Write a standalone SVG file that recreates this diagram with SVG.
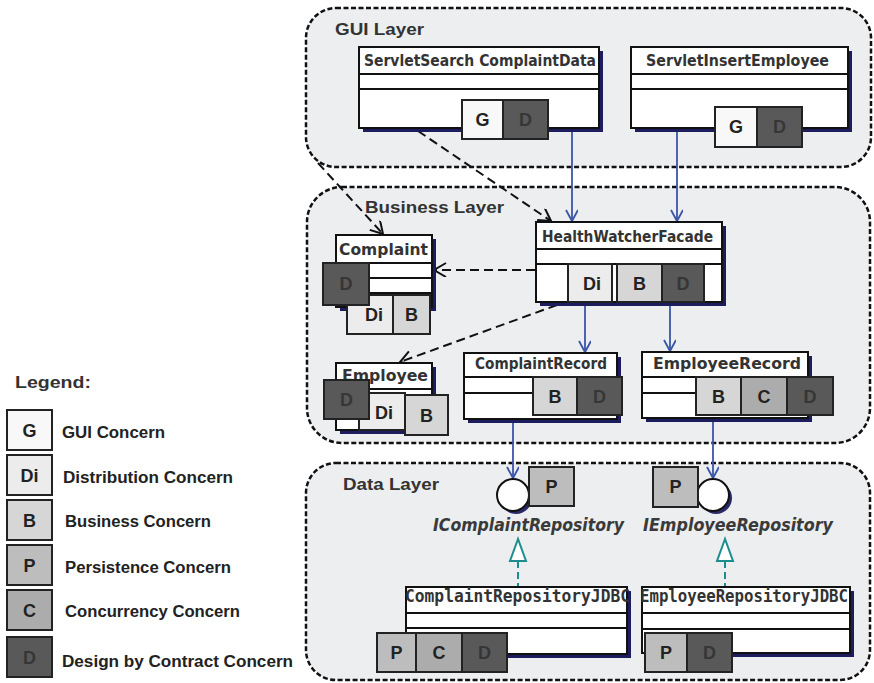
<svg xmlns="http://www.w3.org/2000/svg" width="874" height="683" viewBox="0 0 874 683">
<style>
.layer{fill:#eceef0;stroke:#111;stroke-width:2.5;stroke-dasharray:5 2.5}
.ltitle{font-family:"Liberation Sans",Arial,sans-serif;font-weight:bold;font-size:17px;fill:#333}
.cls{fill:#fff;stroke:#111;stroke-width:2}
.sh{fill:#1c1c5e}
.sep{stroke:#111;stroke-width:2}
.cname{font-family:"DejaVu Sans",Verdana,sans-serif;font-weight:bold;font-size:15px;fill:#333}
.mono{font-family:"DejaVu Sans Mono","Liberation Mono",monospace;font-weight:bold;font-size:17px;fill:#333}
.ital{font-family:"DejaVu Sans",Verdana,sans-serif;font-weight:bold;font-style:italic;font-size:17px;fill:#3a3a3a}
.cb{stroke:#222;stroke-width:2}
.G{fill:#f8f8f8}.Di{fill:#ececec}.B{fill:#d6d6d6}.P{fill:#bdbdbd}.C{fill:#acacac}.D{fill:#595959}
.lt{font-family:"Liberation Sans",Arial,sans-serif;font-weight:bold;font-size:18px;fill:#222;text-anchor:middle}
.ltd{fill:#363636}
.leg{font-family:"Liberation Sans",Arial,sans-serif;font-weight:bold;font-size:16px;fill:#222}
.blue{stroke:#3b55a8;stroke-width:1.8;fill:none}
.dash{stroke:#111;stroke-width:2;stroke-dasharray:9 5;fill:none}
.real{stroke:#1d8c8c;stroke-width:2;stroke-dasharray:7 4;fill:none}
</style>
<defs>
<marker id="ab" markerUnits="userSpaceOnUse" markerWidth="14" markerHeight="14" refX="12" refY="6" orient="auto"><path d="M1,0 L12,6 L1,12" fill="none" stroke="#3b55a8" stroke-width="1.8"/></marker>
<marker id="ak" markerUnits="userSpaceOnUse" markerWidth="16" markerHeight="16" refX="13" refY="7" orient="auto"><path d="M1,0 L13,7 L1,14" fill="none" stroke="#111" stroke-width="2"/></marker>
</defs>

<g id="gui-layer">
<rect class="layer" x="306" y="8" width="565" height="159" rx="30"/>
<text class="ltitle" x="335" y="35" textLength="89" lengthAdjust="spacingAndGlyphs">GUI Layer</text>
</g>
<g id="business-layer">
<rect class="layer" x="307" y="187" width="563" height="256" rx="35"/>
<text class="ltitle" x="365" y="213" textLength="139" lengthAdjust="spacingAndGlyphs">Business Layer</text>
</g>
<g id="data-layer">
<rect class="layer" x="306" y="463" width="564" height="217" rx="30"/>
<text class="ltitle" x="343" y="490" textLength="96" lengthAdjust="spacingAndGlyphs">Data Layer</text>
</g>

<g id="connectors">
<line class="blue" x1="572" y1="130" x2="572" y2="221" marker-end="url(#ab)"/>
<line class="blue" x1="677" y1="130" x2="677" y2="221" marker-end="url(#ab)"/>
<line class="blue" x1="585" y1="304" x2="585" y2="352" marker-end="url(#ab)"/>
<line class="blue" x1="670" y1="304" x2="670" y2="351" marker-end="url(#ab)"/>
<line class="blue" x1="513" y1="421" x2="513" y2="478" marker-end="url(#ab)"/>
<line class="blue" x1="713" y1="420" x2="713" y2="478" marker-end="url(#ab)"/>
<line class="dash" x1="318" y1="163" x2="383" y2="234" marker-end="url(#ak)"/>
<line class="dash" x1="418" y1="131" x2="551" y2="221" marker-end="url(#ak)"/>
<line class="dash" x1="535" y1="270" x2="434" y2="270" marker-end="url(#ak)"/>
<line class="dash" x1="557" y1="305" x2="400" y2="362" marker-end="url(#ak)"/>
<line class="real" x1="518" y1="561" x2="518" y2="587"/>
<polygon points="518,539 510,561 526,561" fill="#fff" stroke="#1d8c8c" stroke-width="2"/>
<line class="real" x1="725" y1="561" x2="725" y2="587"/>
<polygon points="725,539 717,561 733,561" fill="#fff" stroke="#1d8c8c" stroke-width="2"/>
</g>

<g id="ServletSearchComplaintData">
<rect class="sh" x="363" y="51" width="240" height="81"/>
<rect class="cls" x="359" y="47" width="240" height="81"/>
<line class="sep" x1="359" y1="74" x2="599" y2="74"/>
<line class="sep" x1="359" y1="89" x2="599" y2="89"/>
<text class="cname" x="364" y="66" textLength="232" lengthAdjust="spacingAndGlyphs">ServletSearch ComplaintData</text>
<rect class="cb G" x="462" y="100" width="41" height="39"/><text class="lt" x="482.5" y="126">G</text>
<rect class="cb D" x="503" y="100" width="45" height="39"/><text class="lt ltd" x="525.5" y="126">D</text>
</g>

<g id="ServletInsertEmployee">
<rect class="sh" x="635" y="51" width="217" height="81"/>
<rect class="cls" x="631" y="47" width="217" height="81"/>
<line class="sep" x1="631" y1="74" x2="848" y2="74"/>
<line class="sep" x1="631" y1="89" x2="848" y2="89"/>
<text class="cname" x="646" y="66" textLength="183" lengthAdjust="spacingAndGlyphs">ServletInsertEmployee</text>
<rect class="cb G" x="715" y="107" width="42" height="40"/><text class="lt" x="736" y="133">G</text>
<rect class="cb D" x="757" y="107" width="45" height="40"/><text class="lt ltd" x="779.5" y="133">D</text>
</g>

<g id="HealthWatcherFacade">
<rect class="sh" x="540" y="226" width="186" height="80"/>
<rect class="cls" x="536" y="222" width="186" height="80"/>
<line class="sep" x1="536" y1="249" x2="722" y2="249"/>
<line class="sep" x1="536" y1="264" x2="722" y2="264"/>
<text class="cname" x="542" y="242" textLength="171" lengthAdjust="spacingAndGlyphs">HealthWatcherFacade</text>
<rect class="cb Di" x="568" y="264" width="44" height="38"/><text class="lt" x="592" y="290">Di</text>
<rect class="cb B" x="617" y="264" width="45" height="38"/><text class="lt" x="639.5" y="290">B</text>
<rect class="cb D" x="662" y="264" width="42" height="38"/><text class="lt ltd" x="683" y="290">D</text>
</g>

<g id="Complaint">
<rect class="sh" x="340" y="239" width="96" height="72"/>
<rect class="cls" x="336" y="235" width="96" height="72"/>
<line class="sep" x1="336" y1="263" x2="432" y2="263"/>
<line class="sep" x1="336" y1="278" x2="432" y2="278"/>
<line class="sep" x1="336" y1="293" x2="432" y2="293"/>
<text class="cname" x="339" y="255" font-size="16" textLength="89" lengthAdjust="spacingAndGlyphs">Complaint</text>
<rect class="cb Di" x="347" y="295" width="46" height="39"/><text class="lt" x="374" y="321">Di</text>
<rect class="cb B" x="393" y="295" width="37" height="39"/><text class="lt" x="411.5" y="321">B</text>
<rect class="cb D" x="323" y="263" width="46" height="42"/><text class="lt ltd" x="346" y="290">D</text>
</g>

<g id="Employee">
<rect class="sh" x="340" y="367" width="96" height="67"/>
<rect class="cls" x="336" y="363" width="96" height="67"/>
<line class="sep" x1="336" y1="389" x2="432" y2="389"/>
<line class="sep" x1="336" y1="405" x2="432" y2="405"/>
<text class="cname" x="342" y="381" font-size="16" textLength="86" lengthAdjust="spacingAndGlyphs">Employee</text>
<rect class="cb Di" x="359" y="393" width="46" height="37"/><text class="lt" x="384" y="419">Di</text>
<rect class="cb B" x="405" y="395" width="43" height="40"/><text class="lt" x="426.5" y="422">B</text>
<rect class="cb D" x="324" y="380" width="45" height="39"/><text class="lt ltd" x="346.5" y="406">D</text>
</g>

<g id="ComplaintRecord">
<rect class="sh" x="468" y="357" width="153" height="66"/>
<rect class="cls" x="464" y="353" width="153" height="66"/>
<line class="sep" x1="464" y1="377" x2="617" y2="377"/>
<line class="sep" x1="464" y1="393" x2="617" y2="393"/>
<text class="cname" x="475" y="369" textLength="132" lengthAdjust="spacingAndGlyphs">ComplaintRecord</text>
<rect class="cb B" x="533" y="377" width="44" height="38"/><text class="lt" x="555" y="403">B</text>
<rect class="cb D" x="577" y="377" width="45" height="38"/><text class="lt ltd" x="599.5" y="403">D</text>
</g>

<g id="EmployeeRecord">
<rect class="sh" x="646" y="356" width="166" height="66"/>
<rect class="cls" x="642" y="352" width="166" height="66"/>
<line class="sep" x1="642" y1="377" x2="808" y2="377"/>
<line class="sep" x1="642" y1="393" x2="808" y2="393"/>
<text class="cname" x="653" y="369" font-size="16" textLength="148" lengthAdjust="spacingAndGlyphs">EmployeeRecord</text>
<rect class="cb B" x="696" y="377" width="45" height="38"/><text class="lt" x="718.5" y="403">B</text>
<rect class="cb C" x="741" y="377" width="46" height="38"/><text class="lt" x="764" y="403">C</text>
<rect class="cb D" x="787" y="377" width="46" height="38"/><text class="lt ltd" x="810" y="403">D</text>
</g>

<g id="IComplaintRepository">
<circle cx="516" cy="498" r="16" fill="#2a2a6a"/>
<circle cx="513" cy="495" r="16" fill="#fff" stroke="#111" stroke-width="2"/>
<rect class="cb P" x="529" y="467" width="45" height="39"/><text class="lt" x="551.5" y="493">P</text>
<text class="ital" x="433" y="531" textLength="191" lengthAdjust="spacingAndGlyphs">IComplaintRepository</text>
</g>

<g id="IEmployeeRepository">
<circle cx="716" cy="498" r="16" fill="#2a2a6a"/>
<circle cx="713" cy="495" r="16" fill="#fff" stroke="#111" stroke-width="2"/>
<rect class="cb P" x="653" y="467" width="45" height="40"/><text class="lt" x="675.5" y="493">P</text>
<text class="ital" x="643" y="531" textLength="190" lengthAdjust="spacingAndGlyphs">IEmployeeRepository</text>
</g>

<g id="ComplaintRepositoryJDBC">
<rect class="sh" x="410" y="591" width="221" height="67"/>
<rect class="cls" x="406" y="587" width="221" height="67"/>
<line class="sep" x1="406" y1="613" x2="627" y2="613"/>
<line class="sep" x1="406" y1="628" x2="627" y2="628"/>
<text class="mono" x="405" y="602" textLength="225" lengthAdjust="spacingAndGlyphs">ComplaintRepositoryJDBC</text>
<rect class="cb P" x="377" y="633" width="39" height="39"/><text class="lt" x="396.5" y="659">P</text>
<rect class="cb C" x="416" y="633" width="46" height="39"/><text class="lt" x="439" y="659">C</text>
<rect class="cb D" x="462" y="633" width="45" height="39"/><text class="lt ltd" x="484.5" y="659">D</text>
</g>

<g id="EmployeeRepositoryJDBC">
<rect class="sh" x="646" y="591" width="208" height="66"/>
<rect class="cls" x="642" y="587" width="208" height="66"/>
<line class="sep" x1="642" y1="613" x2="850" y2="613"/>
<line class="sep" x1="642" y1="629" x2="850" y2="629"/>
<text class="mono" x="640" y="602" textLength="208" lengthAdjust="spacingAndGlyphs">EmployeeRepositoryJDBC</text>
<rect class="cb P" x="645" y="633" width="42" height="39"/><text class="lt" x="666" y="659">P</text>
<rect class="cb D" x="687" y="633" width="45" height="39"/><text class="lt ltd" x="709.5" y="659">D</text>
</g>

<g id="legend">
<text class="ltitle" x="15" y="388" font-size="18" textLength="76" lengthAdjust="spacingAndGlyphs">Legend:</text>
<rect class="cb G" x="7" y="410" width="45" height="40"/><text class="lt" x="29.5" y="437">G</text>
<text class="leg" x="62" y="438" textLength="103" lengthAdjust="spacingAndGlyphs">GUI Concern</text>
<rect class="cb Di" x="7" y="455" width="45" height="40"/><text class="lt" x="29.5" y="482">Di</text>
<text class="leg" x="63" y="483" textLength="170" lengthAdjust="spacingAndGlyphs">Distribution  Concern</text>
<rect class="cb B" x="7" y="500" width="45" height="40"/><text class="lt" x="29.5" y="527">B</text>
<text class="leg" x="65" y="527" textLength="146" lengthAdjust="spacingAndGlyphs">Business Concern</text>
<rect class="cb P" x="7" y="545" width="45" height="40"/><text class="lt" x="29.5" y="572">P</text>
<text class="leg" x="65" y="573" textLength="166" lengthAdjust="spacingAndGlyphs">Persistence Concern</text>
<rect class="cb C" x="7" y="590" width="45" height="40"/><text class="lt" x="29.5" y="617">C</text>
<text class="leg" x="65" y="617" textLength="175" lengthAdjust="spacingAndGlyphs">Concurrency Concern</text>
<rect class="cb D" x="7" y="637" width="45" height="40"/><text class="lt ltd" x="29.5" y="664">D</text>
<text class="leg" x="62" y="667" textLength="231" lengthAdjust="spacingAndGlyphs">Design by  Contract Concern</text>
</g>
</svg>
